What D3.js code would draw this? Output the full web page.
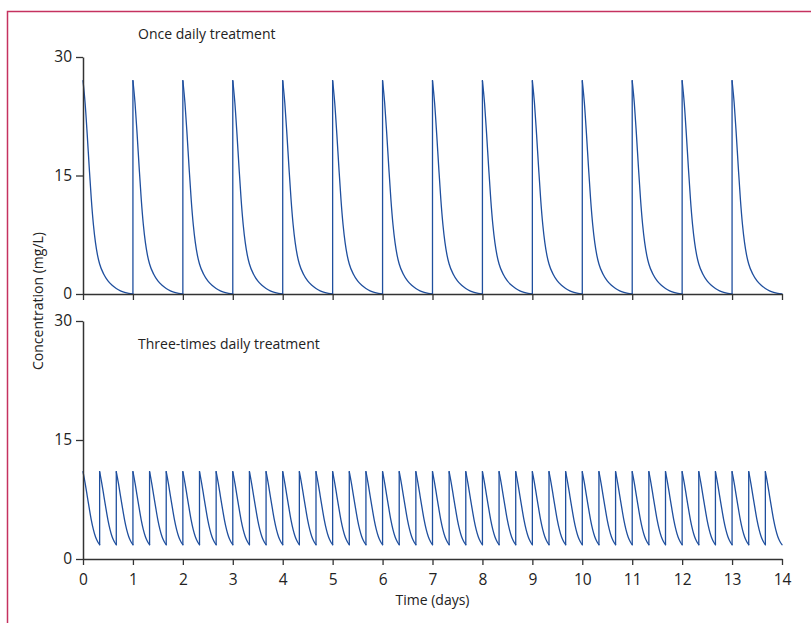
<!DOCTYPE html>
<html>
<head>
<meta charset="utf-8">
<script src="https://cdn.jsdelivr.net/npm/d3@7"></script>
<style>
  body { margin: 0; background: #fff; }
  svg { display: block; font-family: "Open Sans", sans-serif; }
</style>
</head>
<body>
<div id="chart"></div>
<script>
// x ticks (days) and y ticks (mg/L)
const dayTicks = [0, 1, 2, 3, 4, 5, 6, 7, 8, 9, 10, 11, 12, 13, 14]
const concTicks = [0, 15, 30]

// once daily: dose times (days) and one dosing-interval profile
const onceDoseDays = [0, 1, 2, 3, 4, 5, 6, 7, 8, 9, 10, 11, 12, 13]
const onceHours = [0, 1, 2, 3, 4, 5, 6, 7, 8, 10, 12, 14, 16, 18, 20, 22, 24]
const onceConc = [27.0, 24.2, 20.3, 16.0, 12.0, 8.8, 6.5, 4.9, 3.8, 2.5, 1.65, 1.1, 0.7, 0.4, 0.2, 0.07, 0.0]

// three-times daily: dose times (hours) and the 8 h profile
const thriceDoseHours = [0, 8, 16, 24, 32, 40, 48, 56, 64, 72, 80, 88, 96, 104, 112, 120,
  128, 136, 144, 152, 160, 168, 176, 184, 192, 200, 208, 216, 224, 232, 240, 248,
  256, 264, 272, 280, 288, 296, 304, 312, 320, 328]
const thriceHours = [0, 1, 2, 3, 4, 5, 6, 7, 8]
const thriceConc = [11.0, 9.6, 8.0, 6.4, 4.9, 3.7, 2.8, 2.2, 1.8]

const width = 811, height = 623
const lineColor = "#1f4f9e"
const axisColor = "#333"

const svg = d3.select("#chart").append("svg")
  .attr("width", width)
  .attr("height", height)

// frame
svg.append("path")
  .attr("d", `M7.5,${height} V11.5 H${width}`)
  .attr("fill", "none")
  .attr("stroke", "#c5325f")
  .attr("stroke-width", 1.5)

const x = d3.scaleLinear([0, 14], [83, 782])

const panels = [
  {title: "Once daily treatment", y: d3.scaleLinear([0, 30], [294, 57]), titleY: 38.5,
   doses: onceDoseDays, hours: onceHours, conc: onceConc, labels: false},
  {title: "Three-times daily treatment", y: d3.scaleLinear([0, 30], [559, 321]), titleY: 349,
   doses: thriceDoseHours.map(h => h / 24), hours: thriceHours, conc: thriceConc, labels: true}
]

for (const p of panels) {
  const g = svg.append("g")

  const pulses = p.doses.map(t0 => p.hours.map((h, i) => [t0 + h / 24, p.conc[i]]))

  const line = d3.line()
    .x(d => x(d[0]))
    .y(d => p.y(d[1]))
    .curve(d3.curveMonotoneX)

  const marks = g.append("g")
    .attr("fill", "none")
    .attr("stroke", lineColor)
    .attr("stroke-width", 1.3)
    .attr("stroke-linecap", "round")
    .attr("stroke-linejoin", "round")

  marks.selectAll("path.pulse")
    .data(pulses)
    .join("path")
      .attr("class", "pulse")
      .attr("d", line)

  // rise at each new dose, from the previous trough up to the peak
  marks.selectAll("line.rise")
    .data(pulses.slice(1).map((pl, i) => [pulses[i][pulses[i].length - 1], pl[0]]))
    .join("line")
      .attr("class", "rise")
      .attr("x1", d => x(d[1][0]))
      .attr("x2", d => x(d[1][0]))
      .attr("y1", d => p.y(d[0][1]))
      .attr("y2", d => p.y(d[1][1]))

  const yAxis = g.append("g")
    .attr("transform", `translate(${x(0)},0)`)
    .call(d3.axisLeft(p.y).tickValues(concTicks).tickSize(7).tickPadding(4).tickSizeOuter(0))
  const xAxis = g.append("g")
    .attr("transform", `translate(0,${p.y(0)})`)
    .call(d3.axisBottom(x).tickValues(dayTicks).tickSize(6).tickPadding(9).tickSizeOuter(0)
      .tickFormat(p.labels ? d3.format("d") : () => ""))

  for (const ax of [yAxis, xAxis]) {
    ax.attr("font-size", null).attr("font-family", null)
    ax.select(".domain").attr("stroke", axisColor).attr("stroke-width", 1.5)
    ax.selectAll(".tick line").attr("stroke", axisColor).attr("stroke-width", 1.3)
    ax.selectAll(".tick text")
      .attr("fill", "#222")
      .style("font-size", "15.5px")
      .style("font-family", "'Open Sans', sans-serif")
  }

  g.append("text")
    .attr("x", 138)
    .attr("y", p.titleY)
    .attr("font-size", 14)
    .attr("fill", "#222")
    .text(p.title)
}

svg.append("text")
  .attr("transform", "translate(43,301) rotate(-90)")
  .attr("text-anchor", "middle")
  .attr("font-size", 14)
  .attr("fill", "#222")
  .text("Concentration (mg/L)")

svg.append("text")
  .attr("x", x(7))
  .attr("y", 605)
  .attr("text-anchor", "middle")
  .attr("font-size", 14)
  .attr("fill", "#222")
  .text("Time (days)")
</script>
</body>
</html>
